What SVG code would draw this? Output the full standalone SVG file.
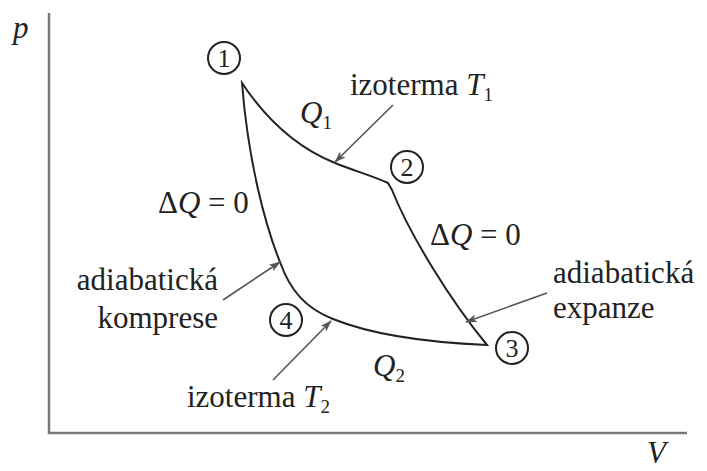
<svg xmlns="http://www.w3.org/2000/svg" width="707" height="471" viewBox="0 0 707 471">
<defs>
<style>
text{font-family:'Liberation Serif','DejaVu Serif','Noto Serif',serif}
.t{font-size:31px;fill:#222}
.i{font-style:italic}
.s{font-size:19px}
.n{font-size:26px;fill:#222;text-anchor:middle}
.c{fill:none;stroke:#222;stroke-width:2}
.ax{stroke:#777;stroke-width:2.5;fill:none}
.ar{stroke:#555;stroke-width:1.6;fill:none;marker-end:url(#ah)}
</style>
<marker id="ah" viewBox="0 0 12 8" refX="11" refY="4" markerWidth="12" markerHeight="8" markerUnits="userSpaceOnUse" orient="auto">
<path d="M0,0 L12,4 L0,8 L3,4 Z" fill="#555"/>
</marker>
</defs>
<g id="axes">
<path class="ax" d="M49,13 V433 H687"/>
<text class="t i" x="13" y="38">p</text>
<text class="t i" x="647" y="463">V</text>
</g>
<g id="cycle">
<path class="c" d="M242,83 C260,110 290,145 335,163 C355,171 375,177 388,183 L392,190 C410,235 450,300 487,345 C440,343 380,338 333,319 C305,308 290,290 280,262 C265,225 248,160 242,83 Z"/>
</g>
<g id="state1"><circle class="c" cx="224" cy="58" r="16"/><text class="n" x="224" y="67">1</text></g>
<g id="state2"><circle class="c" cx="407" cy="167" r="16"/><text class="n" x="407" y="176">2</text></g>
<g id="state3"><circle class="c" cx="512" cy="348" r="16"/><text class="n" x="512" y="357">3</text></g>
<g id="state4"><circle class="c" cx="286" cy="320" r="16"/><text class="n" x="286" y="329">4</text></g>
<g id="labels">
<text class="t" x="350" y="95">izoterma <tspan class="i">T</tspan><tspan class="s" dy="6">1</tspan></text>
<text class="t i" x="300" y="123">Q<tspan class="s" dy="6" font-style="normal">1</tspan></text>
<text class="t" x="158" y="213">Δ<tspan class="i">Q</tspan> = 0</text>
<text class="t" x="430" y="245">Δ<tspan class="i">Q</tspan> = 0</text>
<text class="t" x="553" y="283">adiabatická</text>
<text class="t" x="553" y="318">expanze</text>
<text class="t" x="218" y="290" text-anchor="end">adiabatická</text>
<text class="t" x="218" y="328" text-anchor="end">komprese</text>
<text class="t i" x="373" y="376">Q<tspan class="s" dy="6" font-style="normal">2</tspan></text>
<text class="t" x="187" y="407">izoterma <tspan class="i">T</tspan><tspan class="s" dy="6">2</tspan></text>
</g>
<g id="connectors">
<path class="ar" d="M393,105 L335,162"/>
<path class="ar" d="M547,293 L466,322"/>
<path class="ar" d="M223,300 L280,262"/>
<path class="ar" d="M273,380 L331,321"/>
</g>
</svg>
